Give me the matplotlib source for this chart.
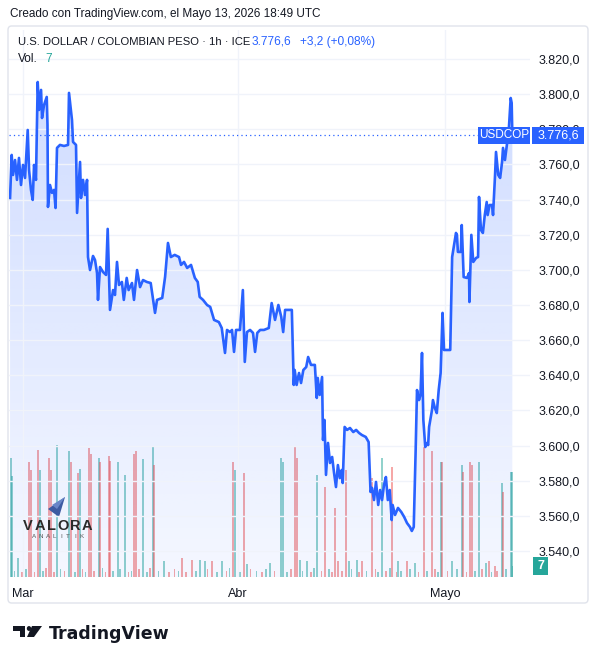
import numpy as np
import matplotlib.pyplot as plt
from matplotlib.patches import Polygon, Rectangle, FancyBboxPatch, Circle
from matplotlib.colors import to_rgb

plt.rcParams['font.family'] = ['Liberation Sans', 'DejaVu Sans']

# USD/COP 1h closes; time in trading days from 2 Mar
t_days = [
    -1.35, -1.18, -1.04, -0.83, -0.63, -0.42, -0.21, 0.0, 0.21, 0.49,
    0.63, 0.83, 1.01, 1.15, 1.35, 1.53, 1.67, 1.88, 1.98, 2.19,
    2.47, 2.55, 2.60, 2.81, 3.02, 3.23, 3.39, 3.54, 3.85, 4.27,
    4.69, 4.79, 5.10, 5.21, 5.52, 5.63, 5.94, 6.04, 6.25, 6.46,
    6.67, 6.77, 6.98, 7.29, 7.50, 7.71, 7.81, 8.02, 8.33, 8.65,
    8.82, 9.06, 9.38, 9.58, 9.79, 10.0, 10.3, 10.5, 10.8, 11.0,
    11.35, 11.56, 11.88, 12.19, 12.5, 12.9, 13.3, 13.75, 13.96, 14.5,
    14.8, 15.1, 15.4, 15.8, 16.25, 16.46, 16.77, 17.1, 17.5, 17.9,
    18.2, 18.4, 18.75, 19.17, 19.5, 19.9, 20.4, 20.7, 21.04, 21.25,
    21.56, 21.77, 21.98, 22.19, 22.6, 22.9, 23.1, 23.33, 23.65, 23.96,
    24.17, 24.4, 24.7, 25.1, 25.6, 25.9, 26.25, 26.6, 26.9, 27.1,
    27.3, 27.7, 28.0, 28.2, 28.3, 28.5, 28.75, 28.96, 29.2, 29.5,
    29.7, 30.0, 30.4, 30.6, 30.7, 30.9, 31.15, 31.25, 31.4, 31.56,
    31.77, 31.98, 32.2, 32.4, 32.6, 32.8, 33.0, 33.2, 33.3, 33.5,
    33.75, 34.06, 34.4, 34.7, 35.0, 35.3, 35.7, 36.0, 36.2, 36.35,
    36.56, 36.77, 37.0, 37.2, 37.4, 37.6, 37.8, 38.0, 38.2, 38.4,
    38.5, 38.75, 39.06, 39.4, 39.7, 40.0, 40.3, 40.5, 40.7, 40.9,
    41.04, 41.25, 41.4, 41.56, 41.7, 41.9, 42.1, 42.2, 42.3, 42.6,
    42.7, 42.9, 43.1, 43.3, 43.5, 43.7, 43.85, 44.2, 44.5, 44.7,
    44.9, 45.1, 45.2, 45.3, 45.6, 45.7, 45.9, 46.25, 46.46, 46.5,
    46.7, 46.9, 47.2, 47.4, 47.5, 47.7, 47.9, 48.1, 48.3, 48.4,
    48.6, 48.85, 48.96, 49.17, 49.27, 49.5, 49.7, 49.9, 50.0, 50.2,
    50.4, 50.6, 50.8, 50.9, 50.97,
]
close = [
    3740.9, 3765.4, 3754.0, 3762.5, 3751.2, 3763.7, 3748.3, 3759.7, 3752.3, 3779.6,
    3756.8, 3745.5, 3739.8, 3759.7, 3751.2, 3806.9, 3791.0, 3802.4, 3786.4, 3793.8,
    3798.4, 3782.5, 3735.8, 3748.3, 3743.8, 3745.5, 3735.2, 3769.4, 3771.1, 3770.5,
    3771.1, 3800.7, 3785.3, 3772.8, 3771.1, 3732.4, 3761.4, 3740.9, 3751.2, 3742.6,
    3751.2, 3707.3, 3699.9, 3707.9, 3705.6, 3698.2, 3682.9, 3701.6, 3698.8, 3697.1,
    3723.3, 3677.2, 3688.5, 3685.7, 3704.5, 3691.4, 3693.1, 3682.9, 3695.4, 3688.5,
    3692.5, 3682.9, 3699.9, 3690.2, 3694.2, 3693.1, 3692.5, 3675.5, 3682.9, 3684.0,
    3696.0, 3715.3, 3707.3, 3708.5, 3707.3, 3702.8, 3704.5, 3701.1, 3702.8, 3695.4,
    3693.1, 3684.6, 3682.9, 3680.0, 3678.9, 3671.5, 3670.3, 3666.9, 3652.7, 3665.8,
    3664.6, 3665.8, 3653.3, 3665.8, 3665.8, 3688.5, 3647.6, 3664.6, 3665.8, 3664.1,
    3653.3, 3664.1, 3665.8, 3665.8, 3666.9, 3681.1, 3671.5, 3680.0, 3673.2, 3664.6,
    3677.2, 3677.2, 3677.2, 3634.5, 3643.0, 3634.5, 3641.3, 3635.6, 3643.0, 3644.7,
    3650.4, 3645.9, 3645.9, 3627.1, 3638.5, 3628.8, 3639.0, 3603.2, 3614.6, 3583.3,
    3601.5, 3590.1, 3593.5, 3584.4, 3576.4, 3588.9, 3581.5, 3586.1, 3578.7, 3610.6,
    3608.9, 3610.0, 3607.7, 3608.9, 3607.2, 3606.0, 3604.9, 3602.0, 3573.6, 3575.9,
    3569.0, 3579.3, 3566.2, 3574.7, 3569.0, 3577.6, 3582.1, 3569.0, 3574.7, 3557.6,
    3566.2, 3560.5, 3564.5, 3562.2, 3559.4, 3555.9, 3553.7, 3551.4, 3553.7, 3597.5,
    3631.6, 3625.9, 3628.8, 3652.7, 3614.6, 3599.2, 3601.5, 3600.3, 3610.6, 3620.2,
    3625.9, 3621.4, 3618.5, 3631.6, 3641.3, 3675.5, 3654.4, 3654.4, 3654.4, 3707.3,
    3714.2, 3721.0, 3719.9, 3710.2, 3710.2, 3725.5, 3695.9, 3695.4, 3698.2, 3681.7,
    3719.9, 3704.5, 3706.8, 3707.3, 3741.5, 3722.7, 3721.0, 3731.2, 3738.6, 3731.2,
    3736.9, 3736.9, 3731.2, 3754.0, 3767.1, 3754.0, 3752.3, 3761.4, 3769.4, 3762.5,
    3771.1, 3779.6, 3797.8, 3795.0, 3776.6,
]

# volume bars (same time axis), up = teal, down = red
vol_t = [
    -1.25, -1.15, -0.52, 0.63, 0.83, 1.56, 1.77, 2.71, 2.92, 3.54,
    4.79, 5.0, 5.73, 5.94, 6.88, 7.08, 7.92, 8.02, 8.96, 9.06,
    9.9, 10.63, 11.56, 11.77, 12.5, 13.54, 13.65, 14.69, 16.56, 17.6,
    18.44, 18.96, 19.69, 20.73, 21.88, 22.08, 23.02, 23.33, 25.73, 26.88,
    27.08, 28.33, 28.54, 28.85, 29.58, 30.63, 31.46, 32.5, 32.81, 33.65,
    33.96, 34.79, 35.31, 36.35, 37.4, 38.44, 39.06, 40.0, 40.83, 41.77,
    42.6, 43.54, 43.65, 44.69, 45.73, 45.83, 46.56, 46.77, 47.5, 48.23,
    48.54, 49.17, 49.9, 50.0, 50.83, 50.94, 50.99,
    -0.9, -0.1, 0.3, 1.2, 2.1, 2.4, 3.2, 3.9, 4.3, 5.4,
    6.2, 6.5, 7.4, 8.3, 8.6, 9.4, 10.1, 11.0, 11.3, 12.1,
    12.9, 13.2, 14.1, 15.2, 15.8, 16.2, 17.0, 18.0, 19.2, 20.2,
    21.2, 21.5, 22.6, 23.7, 24.3, 24.9, 25.3, 26.2, 27.5, 27.9,
    29.1, 30.0, 30.3, 31.1, 31.9, 32.2, 33.2, 34.2, 35.0, 35.8,
    36.7, 37.0, 37.8, 38.2, 38.9, 39.4, 40.3, 41.2, 42.1, 42.9,
    43.2, 44.2, 45.2, 46.2, 47.1, 47.8, 48.8, 49.4, 50.3,
]
vol = [
    76, 64, 12, 73, 68, 81, 68, 76, 68, 84,
    80, 73, 66, 69, 82, 78, 76, 73, 77, 74,
    73, 65, 78, 80, 75, 83, 71, 10, 12, 11,
    11, 10, 10, 10, 73, 68, 66, 8, 9, 76,
    73, 83, 76, 11, 10, 65, 57, 44, 10, 68,
    10, 11, 10, 63, 76, 70, 10, 10, 9, 83,
    80, 73, 73, 10, 71, 67, 73, 71, 73, 9,
    10, 7, 60, 54, 67, 67, 7,
    4, 3, 5, 3, 4, 6, 3, 5, 4, 3,
    5, 3, 4, 6, 3, 4, 5, 3, 4, 5,
    3, 6, 4, 3, 5, 4, 3, 4, 5, 3,
    4, 6, 3, 5, 4, 3, 5, 4, 3, 5,
    4, 3, 6, 4, 5, 3, 4, 5, 3, 4,
    5, 3, 4, 6, 3, 4, 5, 3, 4, 5,
    3, 4, 5, 3, 4, 5, 3, 4, 5,
]
vol_up = [
    1, 1, 1, 0, 0, 0, 1, 0, 0, 1,
    1, 0, 0, 1, 0, 0, 1, 0, 0, 0,
    1, 1, 0, 0, 1, 1, 0, 1, 0, 0,
    1, 1, 0, 1, 0, 1, 0, 1, 1, 1,
    1, 0, 0, 1, 1, 1, 0, 0, 0, 0,
    1, 1, 0, 0, 1, 0, 1, 0, 1, 0,
    0, 1, 0, 1, 1, 0, 0, 0, 1, 1,
    0, 0, 1, 0, 1, 1, 1,
    1, 0, 1, 0, 1, 0, 0, 1, 0, 1,
    0, 1, 0, 1, 0, 1, 1, 0, 1, 0,
    1, 0, 1, 0, 0, 1, 0, 1, 0, 1,
    0, 1, 1, 0, 1, 0, 1, 0, 1, 0,
    1, 0, 1, 0, 1, 0, 0, 1, 0, 1,
    0, 1, 0, 1, 0, 1, 1, 0, 1, 0,
    1, 0, 1, 0, 1, 0, 1, 0, 1,
]

month_pos = [0.0, 22.4, 44.0]
month_lbl = ['Mar', 'Abr', 'Mayo']
price_ticks = list(range(3540, 3821, 20))
last_price = 3776.6

W, H = 598, 664
BLUE = '#2962ff'
TEAL = '#26a69a'
RED = '#ef5350'
TXT = '#131722'


def fx(x, y):
    return x / W, 1 - y / H


def fmt(v):
    s = f'{v:,.1f}'
    return s.replace(',', 'X').replace('.', ',').replace('X', '.')


fig = plt.figure(figsize=(W / 100, H / 100), dpi=100)
fig.patch.set_facecolor('white')

# panel frame
fig.add_artist(FancyBboxPatch(fx(8, 603), 580 / W, 577 / H,
                              boxstyle='round,pad=0,rounding_size=0.006',
                              transform=fig.transFigure, facecolor='none',
                              edgecolor='#e0e3eb', lw=1))

rect = [9 / W, 1 - 577 / H, 521 / W, 547 / H]
x_lim = (-1.46, 52.81)
y_lim = (3525.2, 3836.5)

# volume pane behind
axv = fig.add_axes(rect)
up = np.array(vol_up, dtype=bool)
vt = np.array(vol_t)
vv = np.array(vol)
axv.bar(vt[up], vv[up], width=0.16, color=TEAL, alpha=0.5, lw=0)
axv.bar(vt[~up], vv[~up], width=0.16, color=RED, alpha=0.5, lw=0)
axv.set_xlim(*x_lim)
axv.set_ylim(0, 348)
axv.axis('off')

ax = fig.add_axes(rect)
ax.patch.set_visible(False)
ax.set_zorder(axv.get_zorder() + 1)

# gradient area under the line
verts = list(zip(t_days, close)) + [(t_days[-1], y_lim[0]), (t_days[0], y_lim[0])]
poly = Polygon(verts, closed=True, facecolor='none', edgecolor='none')
ax.add_patch(poly)
grad = np.zeros((256, 1, 4))
grad[:, :, :3] = to_rgb(BLUE)
grad[:, 0, 3] = np.linspace(0.05, 0.22, 256)
im = ax.imshow(grad, extent=[t_days[0], t_days[-1], y_lim[0], max(close)],
               origin='lower', aspect='auto', zorder=1, interpolation='bilinear')
im.set_clip_path(poly)

ax.plot(t_days, close, color=BLUE, lw=1.9, zorder=3, solid_joinstyle='round')
ax.axhline(last_price, xmin=0, xmax=(478 - 9) / 521, color=BLUE, lw=0.9,
           ls=(0, (1, 2.5)), zorder=2)

ax.set_xlim(*x_lim)
ax.set_ylim(*y_lim)
ax.set_yticks(price_ticks)
ax.set_yticklabels([fmt(v) for v in price_ticks])
ax.yaxis.tick_right()
ax.set_xticks(month_pos)
ax.set_xticklabels(month_lbl)
ax.tick_params(axis='y', length=0, pad=6, labelsize=9, labelcolor=TXT)
ax.tick_params(axis='x', length=0, pad=8, labelsize=9, labelcolor=TXT)
ax.grid(True, color='#f0f3fa', lw=1, zorder=0)
for s in ax.spines.values():
    s.set_visible(False)

# header texts
fig.text(*fx(10, 14), 'Creado con TradingView.com, el Mayo 13, 2026 18:49 UTC',
         fontsize=8.5, color=TXT, va='center')
fig.text(*fx(18, 42), 'U.S. DOLLAR / COLOMBIAN PESO · 1h · ICE',
         fontsize=8.1, color=TXT, va='center')
fig.text(*fx(252, 42), fmt(last_price), fontsize=8.6, color=BLUE, va='center')
fig.text(*fx(300, 42), '+3,2 (+0,08%)', fontsize=8.6, color=BLUE, va='center')
fig.text(*fx(18, 59), 'Vol.', fontsize=8.6, color=TXT, va='center')
fig.text(*fx(45, 59), '7', fontsize=8.6, color=TEAL, va='center')

# last price labels (drawn on top of the axis labels)
fig.add_artist(Rectangle(fx(478, 144), 52 / W, 17 / H, transform=fig.transFigure,
                         facecolor=BLUE, edgecolor='none', zorder=10))
fig.text(*fx(504, 135.5), 'USDCOP', fontsize=8.5, color='white', ha='center',
         va='center', zorder=11)
fig.add_artist(Rectangle(fx(532, 144), 52 / W, 17 / H, transform=fig.transFigure,
                         facecolor=BLUE, edgecolor='none', zorder=10))
fig.text(*fx(558, 135.5), fmt(last_price), fontsize=9, color='white', ha='center',
         va='center', zorder=11)
fig.add_artist(Rectangle(fx(533, 575), 15 / W, 18 / H, transform=fig.transFigure,
                         facecolor=TEAL, edgecolor='none', zorder=10))
fig.text(*fx(540.5, 566), '7', fontsize=9, color='white', ha='center',
         va='center', fontweight='bold', zorder=11)

# Valora Analitik watermark
for i, ch in enumerate('VALORA'):
    fig.text(*fx(28 + i * 11.8, 526), ch, fontsize=10.5, color='#2b2b2b',
             ha='center', va='center', fontweight='bold')
for i, ch in enumerate('ANALITIK'):
    fig.text(*fx(34 + i * 6.8, 537), ch, fontsize=4.5, color='#555555',
             ha='center', va='center')
fig.add_artist(Polygon([fx(48, 509), fx(65, 497), fx(59, 517)],
                       transform=fig.transFigure, facecolor='#3f5b9c',
                       edgecolor='none'))
fig.add_artist(Polygon([fx(52, 505), fx(65, 497), fx(57, 509)],
                       transform=fig.transFigure, facecolor='#6e89c4',
                       edgecolor='none'))

# TradingView logo
k = '#131722'
fig.add_artist(Polygon([fx(13, 626), fx(25, 626), fx(25, 637), fx(19.5, 637),
                        fx(19.5, 631), fx(13, 631)],
                       transform=fig.transFigure, facecolor=k, edgecolor='none'))
fig.add_artist(Circle(fx(29, 628.5), 2.2 / W, transform=fig.transFigure,
                      facecolor=k, edgecolor='none'))
fig.add_artist(Polygon([fx(32, 626), fx(42, 626), fx(34, 637), fx(27, 637)],
                       transform=fig.transFigure, facecolor=k, edgecolor='none'))
fig.text(*fx(49, 634), 'TradingView', fontsize=12.5, color=k, va='center',
         fontweight='bold', family='DejaVu Sans')

fig.savefig('out.png', dpi=100)
